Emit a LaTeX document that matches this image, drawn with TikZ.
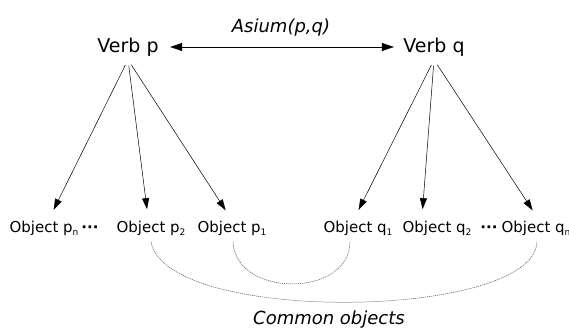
\documentclass[tikz,border=0pt]{standalone}
\usepackage{fontspec}
\setmainfont{DejaVu Sans}
\usetikzlibrary{arrows.meta}

\newcommand{\lowidx}[1]{\raisebox{-3pt}{\fontsize{9}{9}\selectfont #1}}

\begin{document}
\begin{tikzpicture}[x=1pt,y=-1pt,
  verb/.style={font=\fontsize{19}{22}\selectfont},
  obj/.style={font=\fontsize{15}{18}\selectfont, anchor=base},
  pick/.style={-{Triangle[length=11pt,width=7pt]}, line width=0.5pt, shorten <=6pt, shorten >=8pt},
  common/.style={dash pattern=on 1.2pt off 0.8pt, black!65, line width=0.5pt}]

  \useasboundingbox (0,0) rectangle (569,329);

  \node[verb] (vp) at (128,47) {Verb p};
  \node[verb] (vq) at (434,47) {Verb q};
  \draw[{Triangle[length=12pt,width=8pt]}-{Triangle[length=12pt,width=8pt]}, line width=0.5pt, shorten <=8pt, shorten >=6pt]
    (vp) -- (vq) node[midway, above=7pt, font=\fontsize{18}{21}\selectfont\itshape] (sim) {Asium(p,q)};

  % objects of p
  \node[obj] (opn) at (44,232) {Object p\lowidx{n}};
  \node[obj] (dp) at (90,232) {\bfseries ···};
  \node[obj] (op2) at (151,232) {Object p\lowidx{2}};
  \node[obj] (op1) at (232,232) {Object p\lowidx{1}};

  % objects of q
  \node[obj] (oq1) at (358,232) {Object q\lowidx{1}};
  \node[obj] (oq2) at (437,232) {Object q\lowidx{2}};
  \node[obj] (dq) at (489,232) {\bfseries ···};
  \node[obj] (oqn) at (536,232) {Object q\lowidx{n}};

  \draw[pick] (vp.south) -- ([xshift=6pt]opn.north);
  \draw[pick] (vp.south) -- ([xshift=-3pt]op2.north);
  \draw[pick] (vp.south) -- ([xshift=-2pt]op1.north);
  \draw[pick] (vq.south) -- ([xshift=-3pt]oq1.north);
  \draw[pick] (vq.south) -- ([xshift=-15pt]oq2.north);
  \draw[pick] (vq.south) -- ([xshift=1pt]oqn.north);

  \draw[common] ([yshift=-3pt]op2.south) .. controls (165,325) and (535,320) .. ([xshift=1pt,yshift=-3pt]oqn.south);
  \draw[common] ([xshift=1pt,yshift=-3pt]op1.south) .. controls (235,298) and (350,298) .. ([xshift=-8pt,yshift=-3pt]oq1.south);

  \node[font=\fontsize{18}{21}\selectfont\itshape, anchor=base] (com) at (329,324) {Common objects};

\end{tikzpicture}
\end{document}
